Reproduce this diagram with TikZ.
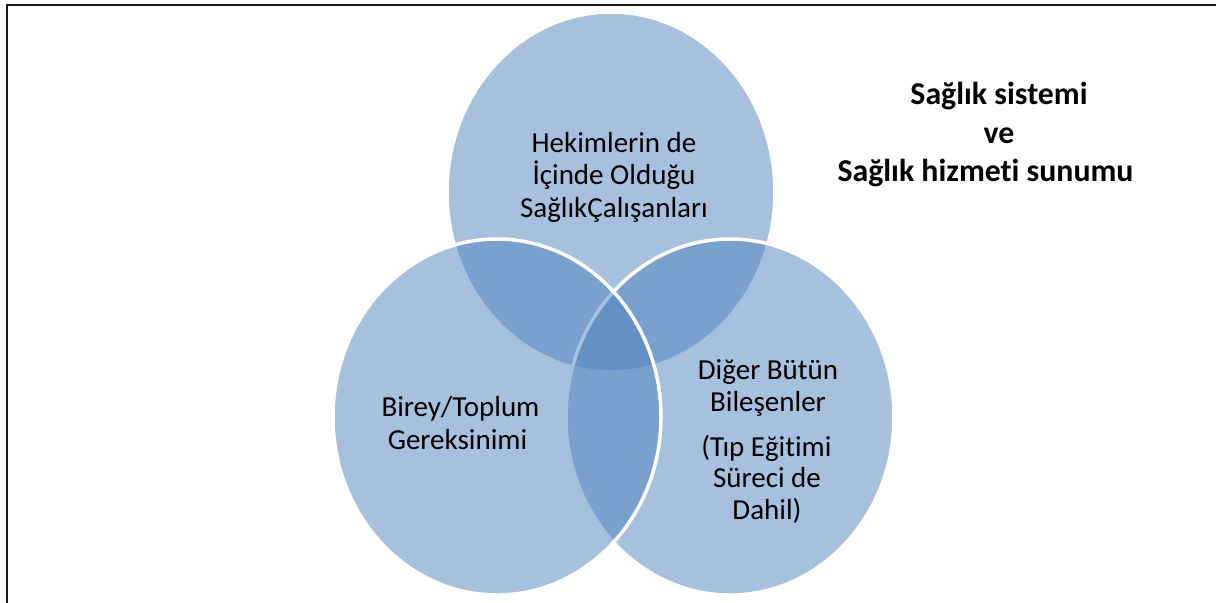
\documentclass[tikz,border=0pt]{standalone}
\usepackage{fontspec}
\setmainfont{Carlito}[RawFeature={-liga}]
\definecolor{acc}{HTML}{4F81BD}
\definecolor{framecol}{HTML}{1A1A1A}
\begin{document}
\begin{tikzpicture}[x=0.5pt,y=-0.5pt,
  venn/.style={fill=acc, fill opacity=0.5, draw=white, draw opacity=1, line width=1.75pt},
  lbl/.style={anchor=base, inner sep=0pt, text=black, font=\fontsize{14.5}{17}\selectfont},
  ttl/.style={anchor=base, inner sep=0pt, text=black, font=\fontsize{15.9}{19}\selectfont\bfseries}]
\useasboundingbox (0,0) rectangle (1216,602);
% frame (cropped)
\draw[framecol, line width=1pt] (7,606) -- (7,5) -- (1222,5);
% circles: top, right, left
\path[venn] (611,192) ellipse [x radius=164, y radius=180];
\path[venn] (730,417) ellipse [x radius=164, y radius=178];
\path[venn] (497,417) ellipse [x radius=164, y radius=178];
% top circle text
\node[lbl] (a1) at (614,152) {Hekimlerin de};
\node[lbl] (a2) at (614,184.5) {İçinde Olduğu};
\node[lbl] (a3) at (614,217) {SağlıkÇalışanları};
% left circle text
\node[lbl] (b1) at (460.5,416.5) {Birey/Toplum};
\node[lbl] (b2) at (457.5,449) {Gereksinimi};
% right circle text
\node[lbl] (c1) at (768,379.5) {Diğer Bütün};
\node[lbl] (c2) at (768,411) {Bileşenler};
\node[lbl] (c3) at (766.5,456) {(Tıp Eğitimi};
\node[lbl] (c4) at (767,487.5) {Süreci de};
\node[lbl] (c5) at (767,519) {Dahil)};
% title
\node[ttl] (t1) at (999,104) {Sağlık sistemi};
\node[ttl] (t2) at (999,143) {ve};
\node[ttl] (t3) at (985.5,181.7) {Sağlık hizmeti sunumu};
\end{tikzpicture}
\end{document}
